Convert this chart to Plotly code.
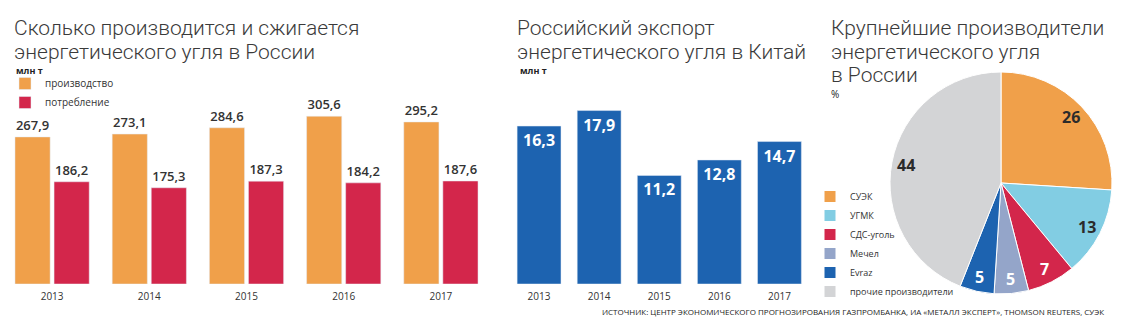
import math
import plotly.graph_objects as go

W, H = 1123, 326

years = ["2013", "2014", "2015", "2016", "2017"]
production = [267.9, 273.1, 284.6, 305.6, 295.2]
consumption = [186.2, 175.3, 187.3, 184.2, 187.6]

export_china = [16.3, 17.9, 11.2, 12.8, 14.7]

producers = ["СУЭК", "УГМК", "СДС-уголь", "Мечел", "Evraz", "прочие производители"]
shares = [26, 13, 7, 5, 5, 44]

ORANGE = "#F0A04A"
RED = "#D3264B"
BLUE = "#1D63B0"
pie_colors = ["#F0A04A", "#82CDE3", "#D3264B", "#94A5C9", "#1D63B0", "#D3D4D6"]
pie_text_colors = ["#2b2b2b", "#2b2b2b", "white", "white", "white", "#2b2b2b"]

FONT = "Open Sans"
TFONT = "Roboto"
TXT = "#333333"

def px_x(p):
    return p / W

def px_y(p):
    return (H - p) / H

fig = go.Figure()

fig.add_trace(go.Bar(
    x=years, y=production, name="производство", marker_color=ORANGE,
    texttemplate="%{y:.1f}", textposition="outside", cliponaxis=False,
    textfont=dict(size=13, color=TXT, family=FONT, weight=600),
    xaxis="x", yaxis="y", legend="legend",
))
fig.add_trace(go.Bar(
    x=years, y=consumption, name="потребление", marker_color=RED,
    texttemplate="%{y:.1f}", textposition="outside", cliponaxis=False,
    textfont=dict(size=13, color=TXT, family=FONT, weight=600),
    xaxis="x", yaxis="y", legend="legend",
))

fig.add_trace(go.Bar(
    x=years, y=export_china, name="экспорт", marker_color=BLUE,
    texttemplate="%{y:.1f}", textposition="inside", insidetextanchor="end",
    textfont=dict(size=16, color="white", family=FONT, weight=700),
    xaxis="x2", yaxis="y2", showlegend=False, width=0.73,
))

PCX, PCY, PR = 1001, 183, 111
fig.add_trace(go.Pie(
    labels=producers, values=shares, sort=False, direction="clockwise", rotation=0,
    marker=dict(colors=pie_colors, line=dict(color="white", width=1)),
    textinfo="none",
    domain=dict(x=[px_x(PCX - PR), px_x(PCX + PR)], y=[px_y(PCY + PR), px_y(PCY - PR)]),
    legend="legend2", hoverinfo="label+value",
))

base = px_y(284)
top = px_y(100)

fig.update_layout(
    width=W, height=H, margin=dict(l=0, r=0, t=0, b=0),
    paper_bgcolor="white", plot_bgcolor="white",
    separators=", ",
    barmode="group", bargap=0.196, bargroupgap=0.1,
    font=dict(family=FONT, color=TXT),
    xaxis=dict(domain=[px_x(3.5), px_x(489.5)], showline=False, showgrid=False, zeroline=False,
               ticks="", tickfont=dict(size=10, color=TXT), ticklabelstandoff=5, anchor="y"),
    yaxis=dict(domain=[base, top], range=[0, 184 / 0.549], visible=False, anchor="x"),
    xaxis2=dict(domain=[px_x(509), px_x(809.5)], showline=False, showgrid=False, zeroline=False,
                ticks="", tickfont=dict(size=10, color=TXT), ticklabelstandoff=5, anchor="y2"),
    yaxis2=dict(domain=[base, top], range=[0, 184 / 9.69], visible=False, anchor="x2"),
    legend=dict(x=px_x(5), y=px_y(69), xanchor="left", yanchor="top", bgcolor="rgba(0,0,0,0)",
                font=dict(size=10, color=TXT), itemclick=False, tracegroupgap=0),
    legend2=dict(x=px_x(810), y=px_y(182), xanchor="left", yanchor="top", bgcolor="rgba(0,0,0,0)",
                 font=dict(size=9, color=TXT), itemclick=False),
    showlegend=True,
)

annotations = []

def title_lines(lines, x, y0, step=24):
    for i, line in enumerate(lines):
        annotations.append(dict(text=line, x=px_x(x), y=px_y(y0 + i * step),
                                font=dict(size=21, color="#3a3a3a", family=TFONT, weight=300)))

title_lines(["Сколько производится и сжигается", "энергетического угля в России"], 12, 14)
title_lines(["Российский экспорт", "энергетического угля в Китай"], 515, 14)
title_lines(["Крупнейшие производители", "энергетического угля", "в России"], 829, 14, 23.5)

annotations += [
    dict(text="<b>млн т</b>", x=px_x(14), y=px_y(62), font=dict(size=9, color="#222")),
    dict(text="<b>млн т</b>", x=px_x(518), y=px_y(62), font=dict(size=9, color="#222")),
    dict(text="%", x=px_x(829), y=px_y(85), font=dict(size=10, color="#222")),
]
for a in annotations:
    a.update(xref="paper", yref="paper", xanchor="left", yanchor="top", showarrow=False)

# pie value labels placed along each slice's mid-angle
total = sum(shares)
cum = 0
for val, col in zip(shares, pie_text_colors):
    mid = (cum + val / 2) / total * 2 * math.pi
    cum += val
    r = 0.87 * PR
    annotations.append(dict(
        text=f"<b>{val}</b>", x=px_x(PCX + r * math.sin(mid)), y=px_y(PCY - r * math.cos(mid)),
        xref="paper", yref="paper", xanchor="center", yanchor="middle", showarrow=False,
        font=dict(size=16, color=col, family=FONT)))

annotations.append(dict(
    text="ИСТОЧНИК: ЦЕНТР ЭКОНОМИЧЕСКОГО ПРОГНОЗИРОВАНИЯ ГАЗПРОМБАНКА, ИА «МЕТАЛЛ ЭКСПЕРТ», THOMSON REUTERS, СУЭК",
    x=px_x(1106), y=px_y(311), xref="paper", yref="paper", xanchor="right", yanchor="middle",
    showarrow=False, font=dict(size=8, color="#222", family=FONT)))

fig.update_layout(annotations=annotations)

fig.write_html("out.html")
